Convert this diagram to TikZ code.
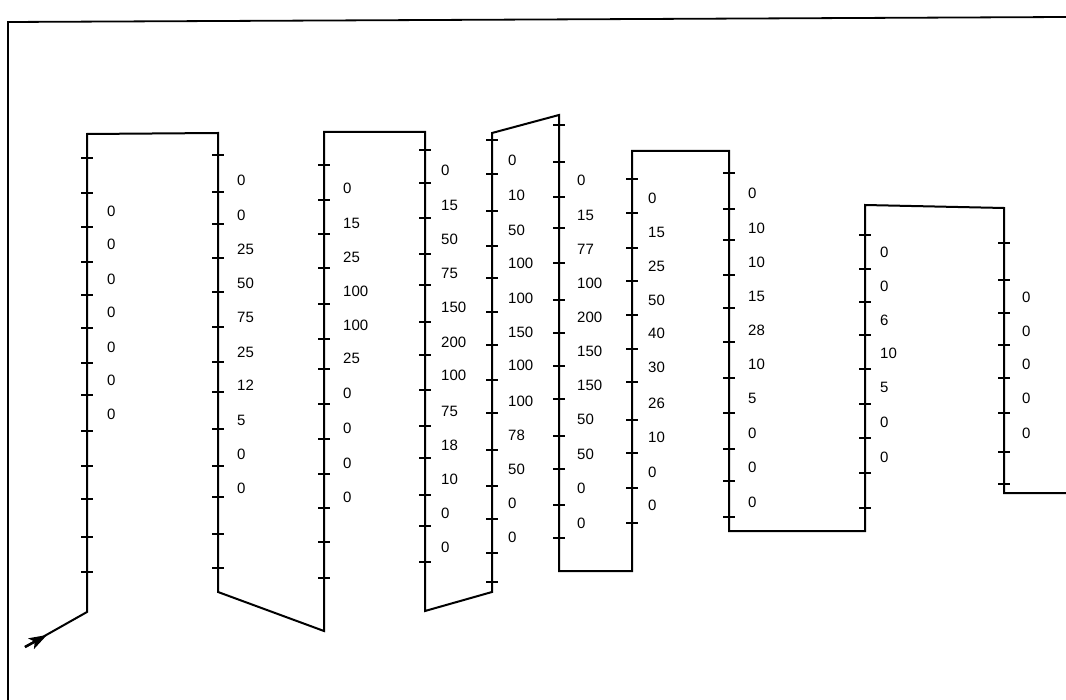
\documentclass[tikz,border=0pt]{standalone}
\usepackage{fontspec}
\setmainfont{Liberation Sans}
\usetikzlibrary{arrows.meta}
\begin{document}
\begin{tikzpicture}[x=1pt,y=-1pt,
  pathline/.style={line width=2pt, line join=miter},
  framel/.style={line width=1.8pt},
  tickl/.style={line width=1.5pt},
  lbl/.style={anchor=west, font=\fontsize{15}{15}\selectfont, inner sep=0pt}]
\useasboundingbox (0,0) rectangle (1066,700);
% frame
\coordinate (f0) at (8,700);
\coordinate (f1) at (8,22);
\coordinate (f2) at (1066,17);
\draw[framel] (f0) -- (f1) -- (f2);
% serpentine path
\coordinate (s) at (25,647);
\coordinate (a) at (47,635);
\coordinate (p0) at (87,612);
\coordinate (p1) at (87,134);
\coordinate (p2) at (218,133);
\coordinate (p3) at (218,592);
\coordinate (p4) at (324,631);
\coordinate (p5) at (324,132);
\coordinate (p6) at (425,132);
\coordinate (p7) at (425,611);
\coordinate (p8) at (492,592);
\coordinate (p9) at (492,133);
\coordinate (p10) at (559,115);
\coordinate (p11) at (559,571);
\coordinate (p12) at (632,571);
\coordinate (p13) at (632,151);
\coordinate (p14) at (729,151);
\coordinate (p15) at (729,531);
\coordinate (p16) at (865,531);
\coordinate (p17) at (865,205);
\coordinate (p18) at (1004,208);
\coordinate (p19) at (1004,493);
\coordinate (p20) at (1066,493);
\draw[pathline] (s) -- (p0) -- (p1) -- (p2) -- (p3) -- (p4) -- (p5) -- (p6) -- (p7) -- (p8) -- (p9) -- (p10) -- (p11) -- (p12) -- (p13) -- (p14) -- (p15) -- (p16) -- (p17) -- (p18) -- (p19) -- (p20);
\draw[line width=2.5pt, -{Stealth[length=18pt,width=12pt,inset=4pt]}] (s) -- (a);
% ticks
\foreach \x/\ys in {
  87/{158,193,227,262,295,328,363,395,431,466,499,537,572},
  218/{155,192,224,258,292,327,362,392,429,466,497,534,568},
  324/{165,200,234,268,304,339,369,404,439,474,508,542,578},
  425/{150,183,218,254,285,322,355,390,426,458,495,526,562},
  492/{140,174,211,246,278,312,345,380,413,450,486,519,553,582},
  559/{125,162,197,228,263,300,333,366,399,436,469,505,538},
  632/{179,213,248,281,315,349,382,420,453,488,523},
  729/{173,209,240,275,308,342,378,413,449,481,517},
  865/{235,269,302,335,369,404,438,473,508},
  1004/{243,280,313,345,378,413,452,484}} {
  \foreach \y in \ys {\draw[tickl] (\x-6,\y) -- (\x+6,\y);}
}
% labels
\foreach \x/\items [count=\c] in {
  107/{211/0,244/0,279/0,312/0,347/0,380/0,414/0},
  237/{180/0,215/0,249/25,283/50,317/75,352/25,385/12,420/5,454/0,488/0},
  343/{188/0,223/15,257/25,291/100,325/100,358/25,393/0,428/0,463/0,497/0},
  441/{170/0,205/15,239/50,273/75,307/150,342/200,375/100,411/75,445/18,479/10,513/0,547/0},
  508/{160/0,195/10,230/50,263/100,298/100,332/150,365/100,401/100,435/78,469/50,503/0,537/0},
  577/{180/0,215/15,249/77,283/100,317/200,351/150,385/150,419/50,454/50,488/0,523/0},
  648/{198/0,232/15,266/25,300/50,333/40,367/30,403/26,437/10,472/0,505/0},
  748/{193/0,228/10,262/10,296/15,330/28,364/10,398/5,433/0,467/0,502/0},
  880/{252/0,286/0,320/6,353/10,387/5,422/0,457/0},
  1022/{297/0,331/0,364/0,398/0,433/0}} {
  \foreach \y/\t [count=\k] in \items {\node[lbl] (l\c-\k) at (\x,\y) {\t};}
}
\end{tikzpicture}
\end{document}
